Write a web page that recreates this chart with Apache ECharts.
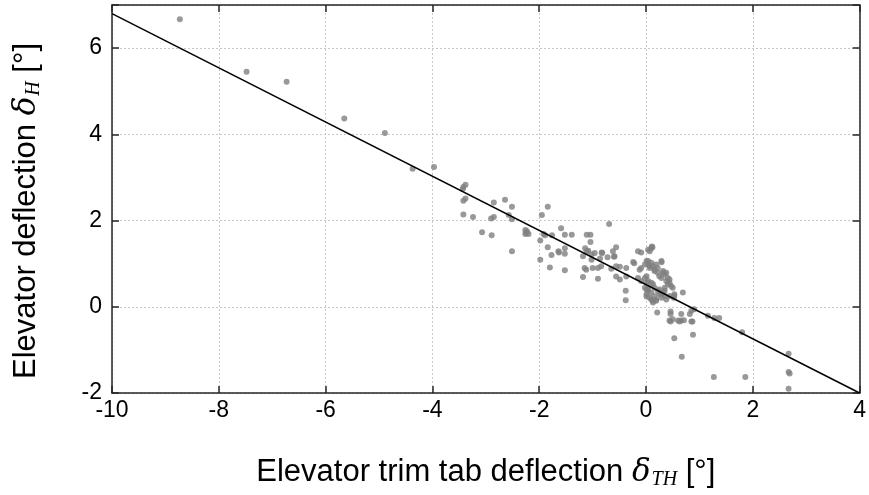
<!DOCTYPE html>
<html>
<head>
<meta charset="utf-8">
<script src="https://cdn.jsdelivr.net/npm/echarts@6/dist/echarts.min.js"></script>
<style>html,body{margin:0;padding:0;background:#fff;}#c{width:869px;height:495px;}</style>
</head>
<body>
<div id="c"></div>
<script>
// Measured points: [trim tab deflection, elevator deflection]
const measuredPoints = [
  [-8.73,6.67],[-7.48,5.45],[-6.73,5.22],[-5.65,4.37],[-4.89,4.03],[-4.37,3.20],[-3.97,3.24],
  [-3.42,2.78],[-3.38,2.83],[-3.43,2.73],[-3.42,2.46],[-3.38,2.51],[-3.42,2.14],[-3.24,2.08],
  [-3.07,1.73],[-2.89,1.66],[-2.85,2.42],[-2.90,2.05],[-2.85,2.08],
  [-2.64,2.48],[-2.51,2.32],[-2.57,2.13],[-2.51,2.03],[-2.51,1.29],
  [-2.26,1.78],[-2.23,1.75],[-2.20,1.69],[-2.26,1.69],[-2.24,1.72],
  [-1.95,2.13],[-1.84,2.32],[-1.98,1.54],[-1.98,1.09],[-1.92,1.69],[-1.89,1.66],[-1.84,1.38],
  [-1.76,1.66],[-1.77,1.20],[-1.80,0.91],
  [-1.59,1.82],[-1.52,1.67],[-1.39,1.67],[-1.63,1.26],[-1.52,1.36],[-1.52,1.23],[-1.52,0.85],[-1.64,1.29],
  [-1.11,1.67],[-1.04,1.67],[-1.04,1.50],[-1.14,1.36],[-1.11,1.29],[-1.08,1.30],[-1.02,1.21],
  [-1.02,1.09],[-0.96,1.25],[-1.18,1.17],[-1.15,0.90],[-1.12,0.86],[-1.18,0.69],[-1.00,0.90],
  [-0.90,0.90],[-0.84,0.94],[-0.90,0.65],[-0.82,1.25],[-0.72,1.15],[-0.86,1.12],
  [-0.69,1.92],[-0.83,1.26],[-0.62,1.29],[-0.56,1.38],[-0.59,1.17],[-0.60,1.16],[-0.65,0.88],
  [-0.56,0.94],[-0.49,0.93],[-0.56,0.70],[-0.49,0.63],[-0.37,0.70],[-0.37,0.90],[-0.38,0.37],
  [-0.38,0.15],[-0.24,1.04],[-0.22,1.01],[-0.15,1.29],[-0.09,1.26],[-0.12,0.86],[-0.09,0.90],
  [-0.09,0.60],[-0.15,0.67],
  [0.04,1.32],[0.12,1.38],[0.07,1.29],[0.10,1.36],[0.11,1.40],[0.01,1.06],[0.29,1.06],
  [0.04,0.98],[0.07,0.90],[0.10,1.02],[0.13,0.94],[0.16,0.86],[0.19,0.98],[0.22,0.90],[0.29,1.03],
  [0.32,0.79],[0.38,0.79],[0.41,0.67],[0.44,0.63],[-0.02,0.98],[0.04,1.06],[0.07,0.94],
  [0.16,0.83],[0.22,0.79],[0.25,0.71],[0.29,0.67],[0.32,0.83],[0.35,0.75],[0.38,0.60],
  [0.44,0.56],[0.47,0.48],[0.50,0.44],
  [-0.02,0.67],[0.04,0.60],[0.10,0.56],[0.13,0.52],[0.16,0.44],[0.04,0.44],
  [0.01,0.24],[0.10,0.17],[0.13,0.10],[0.19,0.14],[0.29,0.29],[0.35,0.25],[0.35,0.37],[0.25,0.40],
  [0.41,0.52],[0.53,0.29],[-0.02,0.44],[0.01,0.29],[0.07,0.21],[0.13,0.14],[0.19,0.17],
  [0.25,0.29],[0.29,0.21],[0.32,0.33],[0.38,0.17],[0.04,0.37],[0.10,0.33],[0.16,0.25],[0.22,0.37],
  [0.35,0.44],[0.44,0.25],[0.53,0.25],[0.69,0.33],[0.52,0.21],
  [0.01,0.71],[0.01,0.56],[0.01,0.40],
  [0.21,-0.13],[0.46,-0.11],[0.46,-0.17],[0.46,-0.34],[0.44,-0.32],[0.50,-0.29],[0.60,-0.32],
  [0.66,-0.17],[0.71,-0.31],[0.66,-0.32],[0.63,-0.34],[0.82,-0.17],[0.85,-0.09],[0.90,-0.06],
  [0.85,-0.34],[0.87,-0.34],
  [0.53,-0.73],[0.88,-0.65],[0.67,-1.16],
  [1.16,-0.21],[1.28,-0.26],[1.37,-0.26],[1.80,-0.59],
  [1.27,-1.63],[1.86,-1.63],
  [2.67,-1.09],[2.67,-1.51],[2.69,-1.55],[2.67,-1.90]
];
// Linear fit line endpoints
const fitLine = [[-10,6.8],[4,-2.0]];
const xTicks = [-10,-8,-6,-4,-2,0,2,4];
const yTicks = [-2,0,2,4,6];

const axisColor = '#262626';
const gridLine = {show:true, lineStyle:{color:'#c8c8c8', type:[2,2], width:1}};
const labelFont = 'Liberation Sans, Arial, sans-serif';
const titleRich = (sub) => ({
  a:{fontSize:31, fontFamily:labelFont, color:'#000'},
  d:{fontSize:31, fontFamily:'DejaVu Serif, Liberation Serif, serif', fontStyle:'italic', color:'#000'},
  s:{fontSize:20, fontFamily:'Liberation Serif, serif', fontStyle:'italic', color:'#000', padding:[15,0,0,1]}
});

const chart = echarts.init(document.getElementById('c'), null, {renderer:'canvas'});
chart.setOption({
  backgroundColor:'#fff',
  animation:false,
  grid:{left:112, right:7, top:5, bottom:99, containLabel:false},
  xAxis:[{
    type:'value', min:-10, max:4, interval:2, position:'bottom',
    axisLine:{show:true, onZero:false, lineStyle:{color:axisColor, width:1.5}},
    axisTick:{show:true, inside:true, length:7, lineStyle:{color:axisColor, width:1.5}},
    axisLabel:{color:'#000', fontSize:23, fontFamily:labelFont, margin:6},
    splitLine:gridLine,
    name:'{a|Elevator trim tab deflection }{d|δ}{s|TH}{a| [°]}',
    nameLocation:'middle', nameGap:62,
    nameTextStyle:{rich:titleRich()}
  },{
    type:'value', min:-10, max:4, interval:2, position:'top',
    axisLine:{show:true, onZero:false, lineStyle:{color:axisColor, width:1.5}},
    axisTick:{show:true, inside:true, length:7, lineStyle:{color:axisColor, width:1.5}},
    axisLabel:{show:false}, splitLine:{show:false}
  }],
  yAxis:[{
    type:'value', min:-2, max:7, interval:2, position:'left',
    axisLine:{show:true, onZero:false, lineStyle:{color:axisColor, width:1.5}},
    axisTick:{show:true, inside:true, length:7, lineStyle:{color:axisColor, width:1.5}},
    axisLabel:{color:'#000', fontSize:23, fontFamily:labelFont, margin:10,
      formatter: v => (yTicks.indexOf(v) >= 0 ? String(v) : '')},
    splitLine:gridLine,
    name:'{a|Elevator deflection }{d|δ}{s|H}{a| [°]}',
    nameLocation:'middle', nameGap:68, nameRotate:90,
    nameTextStyle:{rich:titleRich(), padding:[0,24,0,0]}
  },{
    type:'value', min:-2, max:7, interval:2, position:'right',
    axisLine:{show:true, onZero:false, lineStyle:{color:axisColor, width:1.5}},
    axisTick:{show:true, inside:true, length:7, lineStyle:{color:axisColor, width:1.5}},
    axisLabel:{show:false}, splitLine:{show:false}
  }],
  series:[{
    type:'scatter', xAxisIndex:0, yAxisIndex:0,
    data:measuredPoints, symbol:'circle', symbolSize:6,
    itemStyle:{color:'#808080'}, z:2
  },{
    type:'line', xAxisIndex:0, yAxisIndex:0,
    data:fitLine, showSymbol:false, symbol:'none',
    lineStyle:{color:'#000', width:1.5}, z:3
  }]
});
</script>
</body>
</html>
